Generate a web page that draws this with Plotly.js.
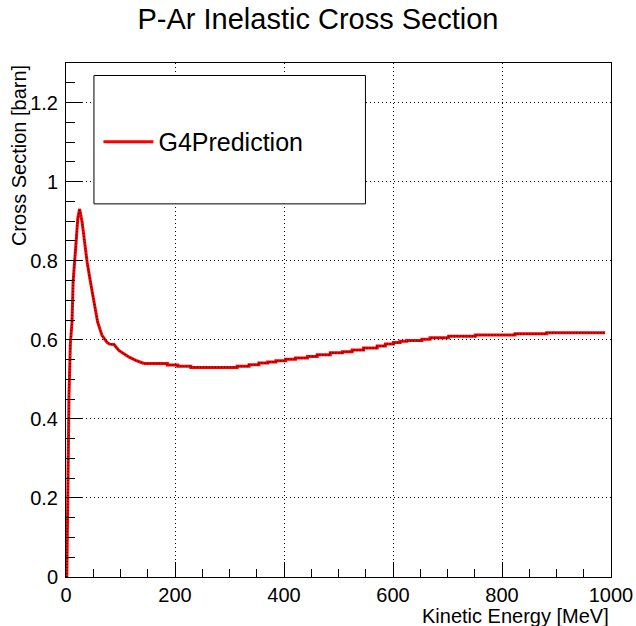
<!DOCTYPE html>
<html>
<head>
<meta charset="utf-8">
<script src="https://cdn.plot.ly/plotly-3.0.1.min.js"></script>
<style>html,body{margin:0;padding:0;background:#fff;}#chart{width:636px;height:626px;}</style>
</head>
<body>
<div id="chart"></div>
<script>
// Low-energy part: kinetic energy [MeV] and cross section [barn]
var riseEnergy = [1.5, 3, 5.5, 8, 11, 13, 15.6, 19, 21.6, 25, 29.6, 34, 38.8, 44.9, 51, 58, 66, 75, 80, 88, 97, 104, 116, 128, 143];
var riseCrossSection = [0.0, 0.2, 0.46, 0.59, 0.644, 0.745, 0.806, 0.856, 0.907, 0.931, 0.897, 0.847, 0.796, 0.746, 0.695, 0.645, 0.611, 0.594, 0.589, 0.588, 0.573, 0.566, 0.556, 0.548, 0.540];
// Plateau part: start energy of each step [MeV] and cross section [barn]
var stepEnergy = [143, 186, 205, 229, 314, 336, 354, 370, 385, 403, 421, 443, 461, 485, 507, 525, 546, 571, 586, 601, 613, 625, 653, 668, 702, 751, 824, 882, 989];
var stepCrossSection = [0.540, 0.536, 0.533, 0.530, 0.533, 0.537, 0.541, 0.544, 0.547, 0.551, 0.554, 0.558, 0.562, 0.567, 0.570, 0.574, 0.579, 0.584, 0.589, 0.593, 0.596, 0.598, 0.601, 0.605, 0.609, 0.612, 0.615, 0.618, 0.618];
var seriesName = "G4Prediction";
var xTicks = [0, 200, 400, 600, 800, 1000];
var yTicks = [0, 0.2, 0.4, 0.6, 0.8, 1, 1.2];
var yTickText = ["0", "0.2", "0.4", "0.6", "0.8", "1", "1.2"];

var FONT = "Liberation Sans, Arial, Helvetica, sans-serif";
var L = 65.5, R = 611.5, T = 62.5, B = 577, W = 636, H = 626;
function px2x(p){ return (p - L) / (R - L); }
function py2y(p){ return (B - p) / (B - T); }

var RED = {color: "#ff0000", width: 3};
var DOTS = {color: "#000000", width: 1.2, dash: "1px,2px"};
var traces = [
  {x: riseEnergy, y: riseCrossSection, type: "scatter", mode: "lines", name: seriesName,
   line: Object.assign({shape: "linear"}, RED)},
  {x: stepEnergy, y: stepCrossSection, type: "scatter", mode: "lines", showlegend: false,
   line: Object.assign({shape: "hv"}, RED)},
  {x: riseEnergy, y: riseCrossSection, type: "scatter", mode: "lines", showlegend: false,
   line: Object.assign({shape: "linear"}, DOTS)},
  {x: stepEnergy, y: stepCrossSection, type: "scatter", mode: "lines", showlegend: false,
   line: Object.assign({shape: "hv"}, DOTS)}
];

var axisCommon = {
  showline: true, linecolor: "#000", linewidth: 1, mirror: true,
  ticks: "inside", tickcolor: "#000", tickwidth: 1,
  showgrid: true, gridcolor: "#000", gridwidth: 1, griddash: "1px,3px",
  zeroline: false, tickfont: {family: FONT, size: 20, color: "#000"}
};

var layout = {
  width: W, height: H,
  paper_bgcolor: "#fff", plot_bgcolor: "#fff",
  margin: {l: L, r: W - R, t: T, b: H - B, pad: 0},
  title: {text: "P-Ar Inelastic Cross Section", font: {family: FONT, size: 29, color: "#000"},
          x: 0.5, xanchor: "center", y: 1 - 19 / H, yanchor: "middle"},
  xaxis: Object.assign({}, axisCommon, {range: [0, 1000], tickvals: xTicks, ticklen: 15,
    ticklabelstandoff: 0,
    minor: {ticks: "inside", dtick: 50, ticklen: 8, tickcolor: "#000", showgrid: false}}),
  yaxis: Object.assign({}, axisCommon, {range: [0, 1.3], tickvals: yTicks, ticktext: yTickText, ticklen: 16,
    ticklabelstandoff: 3,
    minor: {ticks: "inside", dtick: 0.05, ticklen: 9, tickcolor: "#000", showgrid: false}}),
  showlegend: true,
  legend: {x: px2x(98), y: py2y(141.5), xanchor: "left", yanchor: "middle",
           bgcolor: "rgba(0,0,0,0)", borderwidth: 0, itemwidth: 50,
           font: {family: FONT, size: 25, color: "#000"}},
  shapes: [
    {type: "rect", xref: "paper", yref: "paper", x0: px2x(93.5), x1: px2x(365.5), y0: py2y(203.5), y1: py2y(75),
     line: {color: "#000", width: 1}, fillcolor: "#fff", layer: "above"}
  ],
  annotations: [
    {text: "Kinetic Energy [MeV]", xref: "paper", yref: "paper", x: 1, y: py2y(616), xanchor: "right", yanchor: "middle",
     showarrow: false, font: {family: FONT, size: 20, color: "#000"}},
    {text: "Cross Section [barn]", xref: "paper", yref: "paper", x: px2x(18), y: 1, xanchor: "center", yanchor: "top",
     textangle: -90, showarrow: false, font: {family: FONT, size: 20, color: "#000"}}
  ]
};

Plotly.newPlot("chart", traces, layout, {displayModeBar: false, staticPlot: true});
</script>
</body>
</html>
